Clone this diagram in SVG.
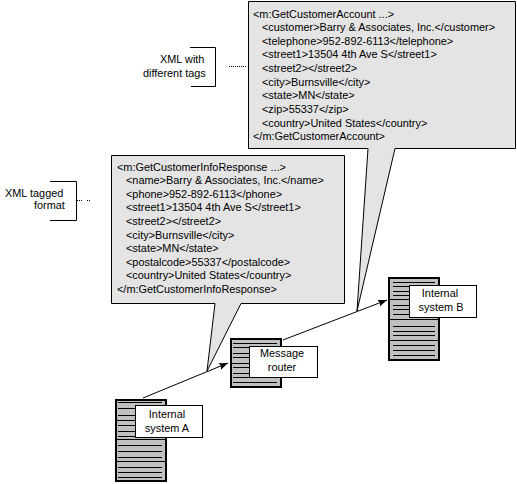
<svg xmlns="http://www.w3.org/2000/svg" width="517" height="484" viewBox="0 0 517 484">
<style>
text{font-family:"Liberation Sans",Arial,sans-serif;font-size:10.9px;fill:#000}
.b{fill:#e4e4e4;stroke:#000;stroke-width:1}
.l{fill:#fff;stroke:#000;stroke-width:1}
.s{fill:#c0c0c0;stroke:#000;stroke-width:2}
.r{stroke:#000;stroke-width:1;fill:none}
.c{text-anchor:middle}
</style>
<defs><marker id="a" markerWidth="10" markerHeight="8" refX="9" refY="3.5" orient="auto" markerUnits="userSpaceOnUse"><path d="M0 0L9 3.5L0 7L1.5 3.5Z" fill="#000"/></marker></defs>
<g id="bubble-b">
<path class="b" d="M248.500 1.500H515.500V148.500H395L357 311L368 148.500H248.500Z"/>
<text x="253" y="18">&lt;m:GetCustomerAccount ...&gt;</text>
<text x="262" y="31">&lt;customer&gt;Barry &amp; Associates, Inc.&lt;/customer&gt;</text>
<text x="262" y="45">&lt;telephone&gt;952-892-6113&lt;/telephone&gt;</text>
<text x="262" y="58">&lt;street1&gt;13504 4th Ave S&lt;/street1&gt;</text>
<text x="262" y="72">&lt;street2&gt;&lt;/street2&gt;</text>
<text x="262" y="86">&lt;city&gt;Burnsville&lt;/city&gt;</text>
<text x="262" y="99">&lt;state&gt;MN&lt;/state&gt;</text>
<text x="262" y="113">&lt;zip&gt;55337&lt;/zip&gt;</text>
<text x="262" y="127">&lt;country&gt;United States&lt;/country&gt;</text>
<text x="253" y="140">&lt;/m:GetCustomerAccount&gt;</text>
</g>
<g id="bubble-a">
<path class="b" d="M111.500 155.500H344.500V303.500H241L207 371L215 303.500H111.500Z"/>
<text x="117" y="171">&lt;m:GetCustomerInfoResponse ...&gt;</text>
<text x="126" y="184">&lt;name&gt;Barry &amp; Associates, Inc.&lt;/name&gt;</text>
<text x="126" y="198">&lt;phone&gt;952-892-6113&lt;/phone&gt;</text>
<text x="126" y="211">&lt;street1&gt;13504 4th Ave S&lt;/street1&gt;</text>
<text x="126" y="225">&lt;street2&gt;&lt;/street2&gt;</text>
<text x="126" y="239">&lt;city&gt;Burnsville&lt;/city&gt;</text>
<text x="126" y="252">&lt;state&gt;MN&lt;/state&gt;</text>
<text x="126" y="266">&lt;postalcode&gt;55337&lt;/postalcode&gt;</text>
<text x="126" y="279">&lt;country&gt;United States&lt;/country&gt;</text>
<text x="117" y="293">&lt;/m:GetCustomerInfoResponse&gt;</text>
</g>
<g id="connectors">
<path class="r" d="M143 398L228 363" marker-end="url(#a)"/>
<path class="r" d="M283 340L387 300" marker-end="url(#a)"/>
<path class="r" stroke-dasharray="1 1" d="M229 66.500H246M248 66.500H250"/>
<path class="r" stroke-dasharray="1 1" d="M77 200.500H82M87 200.500H90"/>
</g>
<g id="system-a">
<rect class="s" x="116" y="400" width="50" height="81"/>
<path class="r" d="M118 402.500H162M118 408.500H162M118 415.500H162M116 420.500H166M118 425.500H162M118 431.500H162M118 436.500H162M116 439.500H166M118 445.500H162M118 451.500H162M118 457.500H162M116 461.500H166M118 467.500H162M118 472.500H162M118 477.500H162"/>
<rect class="l" x="135.500" y="405.500" width="67" height="32"/>
<text class="c" x="167" y="418">Internal</text>
<text class="c" x="167" y="432">system A</text>
</g>
<g id="router">
<rect class="s" x="231" y="339" width="50" height="48"/>
<path class="r" d="M233 343.500H277M233 347.500H277M233 353.500H277M233 357.500H277M231 363.500H281M233 367.500H277M233 373.500H277M233 377.500H277M233 382.500H277"/>
<rect class="l" x="249.500" y="346.500" width="68" height="31"/>
<text class="c" x="282" y="357">Message</text>
<text class="c" x="282" y="371">router</text>
</g>
<g id="system-b">
<rect class="s" x="389" y="278" width="50" height="82"/>
<path class="r" d="M393 282.500H435M393 286.500H435M393 291.500H435M393 295.500H435M390 299.500H439M393 305.500H435M393 309.500H435M393 314.500H435M390 319.500H439M393 326.500H435M393 331.500H435M393 335.500H435M390 340.500H439M393 345.500H435M393 350.500H435M393 355.500H435"/>
<rect class="l" x="409.500" y="285.500" width="67" height="32"/>
<text class="c" x="440" y="297">Internal</text>
<text class="c" x="441" y="311">system B</text>
</g>
<g id="note-tagged">
<path class="r" d="M50 181.500H76.500V220.500H50"/>
<text x="5" y="197">XML tagged</text>
<text x="34" y="209">format</text>
</g>
<g id="note-tags">
<path class="r" d="M190 47.500H215.500V86.500H191"/>
<text x="160" y="63">XML with</text>
<text x="143" y="77">different tags</text>
</g>
</svg>
